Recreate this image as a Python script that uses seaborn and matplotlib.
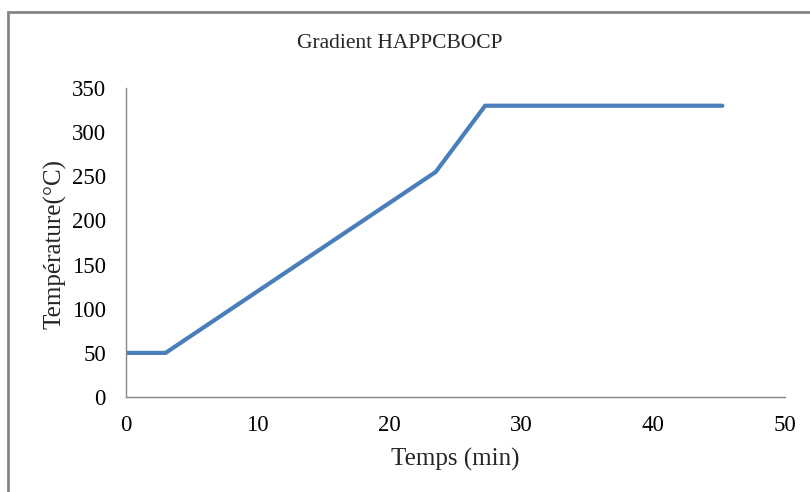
import numpy as np
import pandas as pd
import matplotlib
matplotlib.use('Agg')
import matplotlib.pyplot as plt
import seaborn as sns
from matplotlib.patches import Rectangle

# temperature program
temps_min = [0, 3, 23.5, 27.25, 45.25]
temperature_c = [50, 50, 255, 330, 330]

x_ticks = [0, 10, 20, 30, 40, 50]
y_ticks = [0, 50, 100, 150, 200, 250, 300, 350]

sns.set_style('white')
plt.rcParams['font.family'] = ['Liberation Serif', 'DejaVu Serif']

df = pd.DataFrame({'Temps': temps_min, 'Temp': temperature_c})

fig = plt.figure(figsize=(8.1, 4.92), dpi=100)
ax = fig.add_axes([0.1556, 0.193, 0.8135, 0.628])

sns.lineplot(data=df, x='Temps', y='Temp', ax=ax, color='#4a7ebb',
             linewidth=3, solid_capstyle='round', solid_joinstyle='miter')

ax.set_xlim(0, 50)
ax.set_ylim(0, 350)
ax.set_xticks(x_ticks)
ax.set_yticks(y_ticks)
ax.tick_params(axis='both', length=0, labelsize=16.5, colors='black')
ax.tick_params(axis='x', pad=13)
ax.tick_params(axis='y', pad=14.5)

for s in ['top', 'right']:
    ax.spines[s].set_visible(False)
for s in ['left', 'bottom']:
    ax.spines[s].set_color('#868686')
    ax.spines[s].set_linewidth(1)

ax.set_xlabel('')
ax.set_ylabel('')
fig.text(0.562, 0.067, 'Temps (min)', ha='center', va='center', fontsize=18)
fig.text(0.068, 0.504, 'Température(°C)', ha='center', va='center',
         rotation=90, fontsize=18)
fig.text(0.493, 0.912, 'Gradient HAPPCBOCP', ha='center', va='center',
         fontsize=15.5)

# outer chart frame
fig.patches.append(Rectangle((8 / 810, -0.05), 1.05, 1 - 12 / 492 + 0.05,
                             transform=fig.transFigure, fill=False,
                             edgecolor='#868686', linewidth=2))

fig.savefig('out.png', dpi=100)
